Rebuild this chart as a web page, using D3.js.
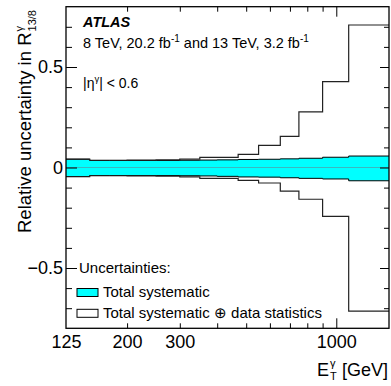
<!DOCTYPE html>
<html>
<head>
<meta charset="utf-8">
<script src="https://d3js.org/d3.v7.min.js"></script>
<style>
  html, body { margin: 0; padding: 0; background: #fff; }
  text { font-family: "Liberation Sans", Arial, Helvetica, sans-serif; fill: #000; }
  .tick line { stroke: #000; stroke-width: 1; }
</style>
</head>
<body>
<svg id="chart" width="391" height="386"></svg>
<script>
// bin edges in photon ET [GeV]
const binEdges = [125, 150, 175, 200, 250, 300, 350, 400, 470, 550, 650, 750, 900, 1100, 1500];
// total systematic (cyan band)
const systUp   = [0.041, 0.035, 0.035, 0.035, 0.035, 0.036, 0.037, 0.038, 0.040, 0.041, 0.043, 0.046, 0.051, 0.057];
const systDown = [-0.045, -0.040, -0.040, -0.040, -0.040, -0.041, -0.042, -0.044, -0.047, -0.048, -0.051, -0.054, -0.057, -0.066];
// total systematic (+) data statistics (open outline)
const totalUp   = [0.042, 0.036, 0.036, 0.037, 0.038, 0.042, 0.050, 0.050, 0.065, 0.110, 0.155, 0.277, 0.427, 0.709];
const totalDown = [-0.046, -0.041, -0.041, -0.042, -0.043, -0.047, -0.054, -0.054, -0.064, -0.077, -0.118, -0.158, -0.243, -0.715];

const xLabelTicks = [125, 200, 300, 1000];
const xMinorTicks = [200, 300, 400, 500, 600, 700, 800, 900];
const xMajorTicks = [1000];
const yMajorTicks = [-0.5, 0, 0.5];
const yMinorTicks = [-0.7, -0.6, -0.4, -0.3, -0.2, -0.1, 0.1, 0.2, 0.3, 0.4, 0.6, 0.7];

const mLeft = 66, mRight = 389, mTop = 6.7, mBottom = 328.3;

const svg = d3.select("#chart");

const x = d3.scaleLog().domain([125, 1500]).range([mLeft, mRight]);
const y = d3.scaleLinear().domain([-0.8, 0.8]).range([mBottom, mTop]);

// step points: one per bin edge, last edge repeats last bin value
const nb = systUp.length;
const pts = binEdges.map((e, i) => ({ e: e, i: Math.min(i, nb - 1) }));

const band = d3.area()
  .curve(d3.curveStepAfter)
  .x(d => x(d.e))
  .y0(d => y(systDown[d.i]))
  .y1(d => y(systUp[d.i]));

svg.append("path")
  .attr("d", band(pts))
  .attr("fill", "#00ffff")
  .attr("stroke", "none");

const stepLine = arr => d3.line()
  .curve(d3.curveStepAfter)
  .x(d => x(d.e))
  .y(d => y(arr[d.i]));

// band outline
[systUp, systDown].forEach(arr => {
  svg.append("path")
    .attr("d", stepLine(arr)(pts))
    .attr("fill", "none")
    .attr("stroke", "#000")
    .attr("stroke-width", 1);
});

// zero line inside the band
svg.append("line")
  .attr("x1", x(125)).attr("x2", x(1500))
  .attr("y1", y(0)).attr("y2", y(0))
  .attr("stroke", "#3ab8c0")
  .attr("stroke-width", 1);

// total uncertainty outline
[totalUp, totalDown].forEach(arr => {
  svg.append("path")
    .attr("d", stepLine(arr)(pts))
    .attr("fill", "none")
    .attr("stroke", "#222")
    .attr("stroke-width", 1.2);
});

// axes (ticks point inwards, ROOT style)
function clean(g) { g.select(".domain").remove(); }

svg.append("g").attr("transform", `translate(0,${mBottom})`)
  .call(d3.axisBottom(x).tickValues(xMinorTicks).tickSize(-5).tickFormat(""))
  .call(clean);
svg.append("g").attr("transform", `translate(0,${mBottom})`)
  .call(d3.axisBottom(x).tickValues(xMajorTicks).tickSize(-10).tickFormat(""))
  .call(clean);
svg.append("g").attr("transform", `translate(0,${mTop})`)
  .call(d3.axisTop(x).tickValues(xMinorTicks).tickSize(-5).tickFormat(""))
  .call(clean);
svg.append("g").attr("transform", `translate(0,${mTop})`)
  .call(d3.axisTop(x).tickValues(xMajorTicks).tickSize(-10).tickFormat(""))
  .call(clean);

const xLab = svg.append("g").attr("transform", `translate(0,${mBottom})`)
  .call(d3.axisBottom(x).tickValues(xLabelTicks).tickSize(0).tickPadding(7).tickFormat(d3.format("d")))
  .call(clean);
xLab.selectAll("text").style("font-size", "18px");

svg.append("g").attr("transform", `translate(${mLeft},0)`)
  .call(d3.axisLeft(y).tickValues(yMinorTicks).tickSize(-6).tickFormat(""))
  .call(clean);
const yLab = svg.append("g").attr("transform", `translate(${mLeft},0)`)
  .call(d3.axisLeft(y).tickValues(yMajorTicks).tickSize(-11).tickPadding(3)
    .tickFormat(d => d === 0 ? "0" : d3.format(".1f")(d)))
  .call(clean);
yLab.selectAll("text").style("font-size", "18px").attr("x", -3);

svg.append("g").attr("transform", `translate(${mRight},0)`)
  .call(d3.axisRight(y).tickValues(yMinorTicks).tickSize(-5).tickFormat(""))
  .call(clean);
svg.append("g").attr("transform", `translate(${mRight},0)`)
  .call(d3.axisRight(y).tickValues(yMajorTicks).tickSize(-9).tickFormat(""))
  .call(clean);

// frame
svg.append("rect")
  .attr("x", mLeft).attr("y", mTop)
  .attr("width", mRight - mLeft).attr("height", mBottom - mTop)
  .attr("fill", "none").attr("stroke", "#000").attr("stroke-width", 1.3);

// x axis title: E_T^gamma [GeV], right aligned
const xt = svg.append("g");
const gev = xt.append("text").attr("x", 388).attr("y", 375.5)
  .attr("text-anchor", "end").style("font-size", "18px").text("[GeV]");
const gevW = gev.node().getComputedTextLength();
const scriptX = 388 - gevW - 5 - 7;
xt.append("text").attr("x", scriptX).attr("y", 367).style("font-size", "11px").text("γ");
xt.append("text").attr("x", scriptX).attr("y", 380).style("font-size", "11px").text("T");
xt.append("text").attr("x", scriptX - 1).attr("y", 375.5)
  .attr("text-anchor", "end").style("font-size", "18px").text("E");

// y axis title
const yt = svg.append("g").attr("transform", "translate(31,233) rotate(-90)");
const ymain = yt.append("text").attr("x", 0).attr("y", 0)
  .style("font-size", "18.5px").text("Relative uncertainty in R");
const ymW = ymain.node().getComputedTextLength();
yt.append("text").attr("x", ymW + 1).attr("y", -8).style("font-size", "11px").text("γ");
yt.append("text").attr("x", ymW + 1).attr("y", 5).style("font-size", "11px").text("13/8");

// ATLAS label block
svg.append("text").attr("x", 83).attr("y", 27)
  .style("font-size", "14.5px").style("font-weight", "bold").style("font-style", "italic")
  .text("ATLAS");

const l2 = svg.append("text").attr("x", 83).attr("y", 48).style("font-size", "14.5px");
l2.append("tspan").text("8 TeV, 20.2 fb");
l2.append("tspan").attr("dy", -6).style("font-size", "10px").text("-1");
l2.append("tspan").attr("dy", 6).text(" and 13 TeV, 3.2 fb");
l2.append("tspan").attr("dy", -6).style("font-size", "10px").text("-1");

const l3 = svg.append("text").attr("x", 83).attr("y", 88).style("font-size", "14px");
l3.append("tspan").text("|η");
l3.append("tspan").attr("dy", -6).style("font-size", "9.5px").text("γ");
l3.append("tspan").attr("dy", 6).text("| < 0.6");

// legend
svg.append("text").attr("x", 79).attr("y", 273).style("font-size", "15px").text("Uncertainties:");
const legend = [
  { label: "Total systematic", fill: "#00ffff", y: 288.5 },
  { label: "Total systematic ⊕ data statistics", fill: "#fff", y: 309.3 }
];
legend.forEach(d => {
  svg.append("rect").attr("x", 77).attr("y", d.y).attr("width", 21).attr("height", 8)
    .attr("fill", d.fill).attr("stroke", "#000").attr("stroke-width", 1);
  svg.append("text").attr("x", 103).attr("y", d.y + 8.3).style("font-size", "15px").text(d.label);
});
</script>
</body>
</html>
